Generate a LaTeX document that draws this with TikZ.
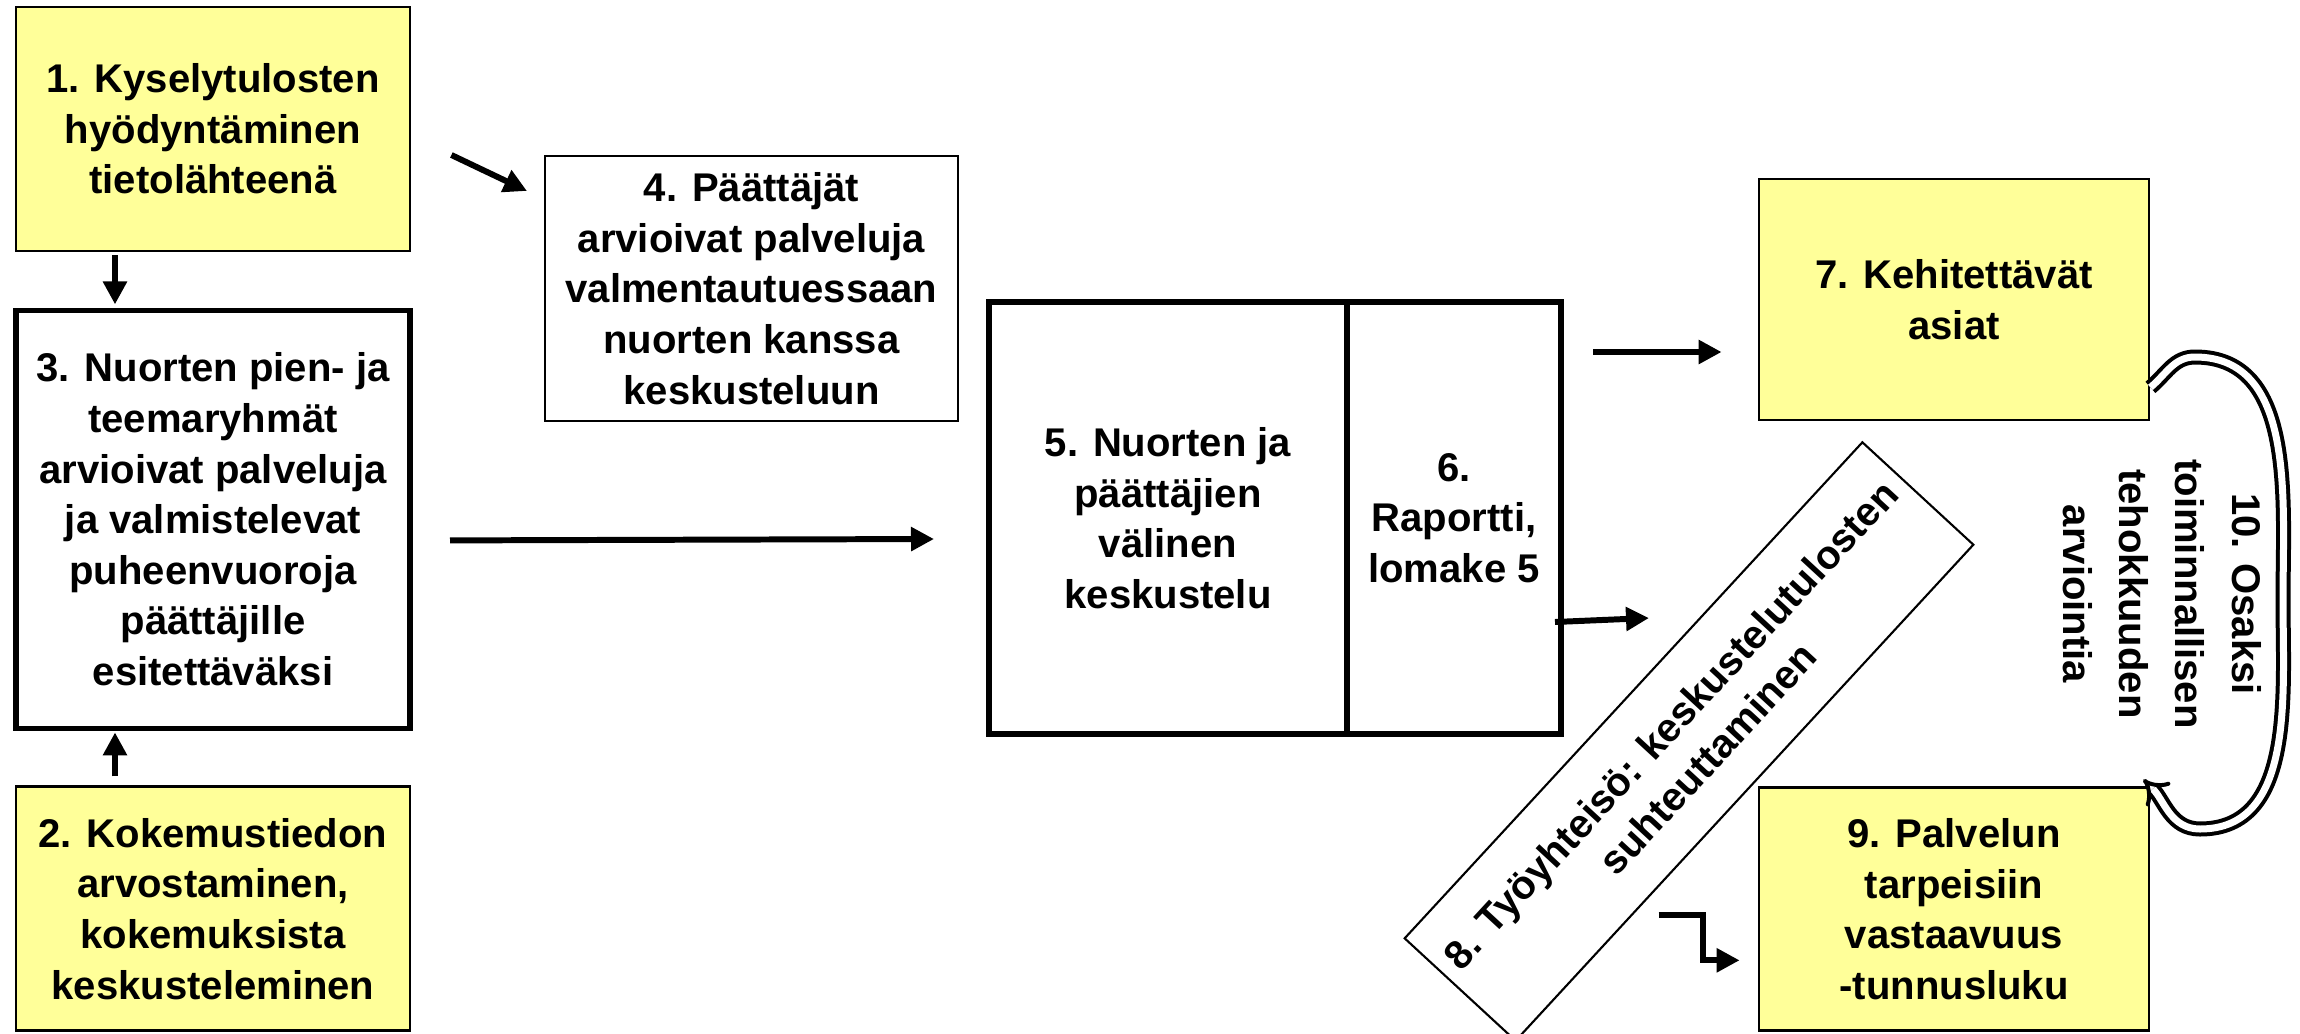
\documentclass[tikz,border=0pt]{standalone}
\usepackage{fontspec}
\setmainfont{Liberation Sans}
\usetikzlibrary{positioning,arrows.meta}
\definecolor{noteyellow}{RGB}{255,255,153}

\begin{document}
\begin{tikzpicture}
[basebox/.style={draw,align=center,inner sep=0pt,font=\bfseries\fontsize{11.4}{14.4}\selectfont},
 yellowbox/.style={basebox,fill=noteyellow,line width=0.8pt,minimum width=3.94cm,minimum height=2.44cm},
 thinbox/.style={basebox,line width=0.6pt},
 thickbox/.style={basebox,line width=1.5pt,outer sep=0pt,minimum height=4.32cm},
 arr/.style={line width=1.7pt,-{Triangle[length=0.23cm,width=0.23cm]}},
 loopline/.style={line width=0.04cm,double=white,double distance=0.07cm,-{Implies}}]
\useasboundingbox (0,0) rectangle (23,-10.33);
\node[yellowbox](n1) at (2.13,-1.29){1. Kyselytulosten\\hyödyntäminen\\tietolähteenä};
\node[thickbox,minimum width=3.94cm,minimum height=4.18cm,below=0.58cm of n1](n3){3. Nuorten pien- ja\\teemaryhmät\\arvioivat palveluja\\ja valmistelevat\\puheenvuoroja\\päättäjille\\esitettäväksi};
\node[yellowbox,below=0.57cm of n3](n2){2. Kokemustiedon\\arvostaminen,\\kokemuksista\\keskusteleminen};
\node[thinbox,minimum width=4.13cm,minimum height=2.65cm](n4) at (7.515,-2.885){4. Päättäjät\\arvioivat palveluja\\valmentautuessaan\\nuorten kanssa\\keskusteluun};
\node[thickbox,minimum width=3.58cm](n5) at (11.68,-5.18){5. Nuorten ja\\päättäjien\\välinen\\keskustelu};
\node[thickbox,minimum width=2.14cm,right=0cm of n5](n6){6.\\Raportti,\\lomake 5};
\node[yellowbox,minimum width=3.90cm,minimum height=2.41cm](n7) at (19.54,-2.995){7. Kehitettävät\\asiat};
\node[yellowbox,minimum width=3.90cm,minimum height=2.43cm,below=3.65cm of n7](n9){9. Palvelun\\tarpeisiin\\vastaavuus\\-tunnusluku};
\node[thinbox,minimum width=6.75cm,minimum height=1.51cm,rotate=47.3](n8) at (16.89,-7.415){8. Työyhteisö: keskustelutulosten\\suhteuttaminen};
\node[align=center,rotate=-90,font=\bfseries\fontsize{11.4}{16}\selectfont](n10) at (21.62,-5.94){10. Osaksi\\toiminnallisen\\tehokkuuden\\arviointia};
\draw[arr,shorten <=0.03cm,shorten >=0.06cm] ([xshift=-0.98cm]n1.south) -- ([xshift=-0.98cm]n3.north);
\draw[arr,shorten <=0.09cm,shorten >=0.04cm] ([xshift=-0.98cm]n2.north) -- ([xshift=-0.98cm]n3.south);
\draw[arr] ([shift={(0.40,-0.26)}]n1.east) -- ([shift={(-0.17,-0.36)}]n4.north west);
\draw[arr] ([shift={(0.40,-0.21)}]n3.east) -- ([shift={(-0.55,-0.21)}]n5.west);
\draw[arr] ([shift={(0.32,-0.50)}]n6.north east) -- ([shift={(-0.36,-0.525)}]n7.west);
\draw[arr] ([shift={(-0.06,-1.04)}]n6.east) -- ([shift={(-0.40,1.235)}]n8.center);
\draw[arr] ([shift={(-0.99,-0.06)}]n9.west) -- ++(0.445,0) |- ([shift={(-0.18,-0.51)}]n9.west);
\draw[loopline] ([yshift=0.34cm]n7.south east) to[out=40,in=180] (21.95,-3.57) to[out=0,in=90] (22.83,-6.0)
  to[out=-90,in=0] (22.0,-8.29) to[out=180,in=-45] ([shift={(-0.07,0.07)}]n9.north east);
\end{tikzpicture}
\end{document}
